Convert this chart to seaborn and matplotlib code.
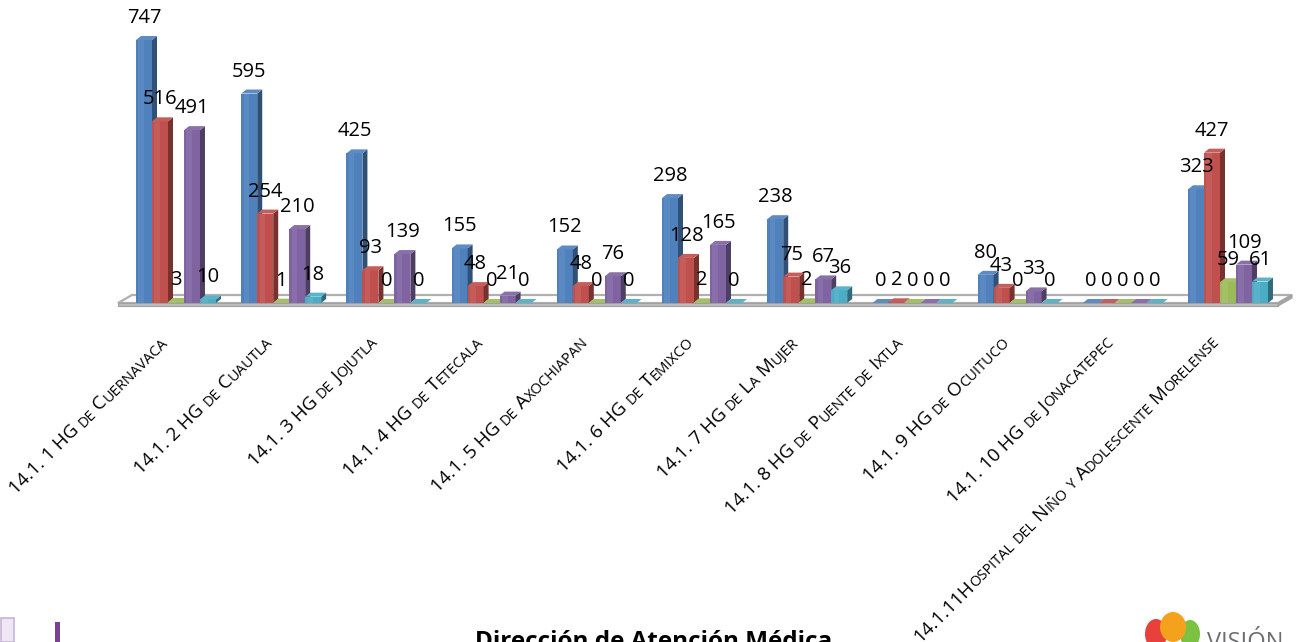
import numpy as np
import pandas as pd
import matplotlib
matplotlib.use("Agg")
import matplotlib.pyplot as plt
import seaborn as sns
from matplotlib.patches import Polygon, Rectangle, Ellipse
from matplotlib.font_manager import FontProperties

# ---------------- data ----------------
categories = [
    "14.1. 1 HG de Cuernavaca",
    "14.1. 2 HG de Cuautla",
    "14.1. 3 HG de Jojutla",
    "14.1. 4 HG de Tetecala",
    "14.1. 5 HG de Axochiapan",
    "14.1. 6 HG de Temixco",
    "14.1. 7 HG de La Mujer",
    "14.1. 8 HG de Puente de Ixtla",
    "14.1. 9 HG de Ocuituco",
    "14.1. 10 HG de Jonacatepec",
    "14.1.11Hospital del Niño y Adolescente Morelense",
]
series_names = ["Serie 1", "Serie 2", "Serie 3", "Serie 4", "Serie 5"]
serie1 = [747, 595, 425, 155, 152, 298, 238, 0, 80, 0, 323]
serie2 = [516, 254, 93, 48, 48, 128, 75, 2, 43, 0, 427]
serie3 = [3, 1, 0, 0, 0, 2, 2, 0, 0, 0, 59]
serie4 = [491, 210, 139, 21, 76, 165, 67, 0, 33, 0, 109]
serie5 = [10, 18, 0, 0, 0, 0, 36, 0, 0, 0, 61]
colors = ["#4F81BD", "#C0504D", "#9BBB59", "#8064A2", "#4BACC6"]
footer = "Dirección de Atención Médica"

all_series = [serie1, serie2, serie3, serie4, serie5]
df = pd.DataFrame({
    "cat": np.repeat([categories], 5, axis=0).ravel(),
    "serie": np.repeat(series_names, len(categories)),
    "val": np.concatenate(all_series),
})

# ---------------- figure ----------------
W, H = 1300, 642
FONT = "Open Sans"
sns.set_style("white")
plt.rcParams["font.family"] = [FONT, "DejaVu Sans"]

fig = plt.figure(figsize=(W / 100, H / 100), dpi=100)
base_px = 303          # baseline (value 0) from top
top_px = 40            # top of 747 bar from top
ppx = 105.2            # px per category
c0 = 176               # px of first group centre
ax = fig.add_axes([100 / W, (H - base_px) / H, 1200 / W, base_px / H])

sns.barplot(data=df, x="cat", y="val", hue="serie", order=categories,
            hue_order=series_names, palette=colors, width=0.76, saturation=1,
            errorbar=None, legend=False, ax=ax, linewidth=0)
bars = [p for p in ax.patches if isinstance(p, Rectangle)]
ax.set_xlim((100 - c0) / ppx, (1300 - c0) / ppx)
ymax = max(serie1) * base_px / (base_px - top_px)
ax.set_ylim(0, ymax)
ax.axis("off")

upx = ymax / base_px          # data units per px (y)
dx = 5 / ppx
dy = 4 * upx


def shade(c, f):
    r = np.array(matplotlib.colors.to_rgb(c))
    return tuple(np.clip(r * f, 0, 1))


def lighten(c, f):
    r = np.array(matplotlib.colors.to_rgb(c))
    return tuple(r + (1 - r) * f)


# floor
xl_f, xr_f = (118 - c0) / ppx, (1278 - c0) / ppx
off = 14 / ppx
yb = 8 * upx
ax.add_patch(Polygon([(xl_f, 0), (xr_f, 0), (xr_f + off, yb), (xl_f + off, yb)],
                     closed=True, facecolor="white", edgecolor="#b0b0b0", lw=1.6,
                     zorder=1, clip_on=False))
ax.add_patch(Polygon([(xl_f, 0), (xr_f, 0), (xr_f, -3 * upx), (xl_f, -3 * upx)],
                     closed=True, facecolor="#bdbdbd", edgecolor="#a0a0a0",
                     lw=0.8, zorder=1, clip_on=False))
ax.add_patch(Polygon([(xr_f, 0), (xr_f + off, yb), (xr_f + off, yb - 3 * upx),
                      (xr_f, -3 * upx)], closed=True, facecolor="#a8a8a8",
                     edgecolor="#a0a0a0", lw=0.8, zorder=1, clip_on=False))

# 3D bars
for p in bars:
    w = p.get_width()
    if w > 0.5 or w <= 0:
        continue
    x = p.get_x()
    h = p.get_height()
    c = x + w / 2
    g = int(round(c))
    s = int(round((c - g + 0.38 - w / 2) / w))
    if s < 0 or s > 4:
        continue
    col = colors[s]
    z = 3 + s
    p.set_zorder(z)
    p.set_clip_on(False)
    # subtle highlight strip on the front face
    ax.add_patch(Rectangle((x + w * 0.15, 0), w * 0.35, h,
                           facecolor=lighten(col, 0.07), edgecolor="none",
                           zorder=z, clip_on=False))
    side = Polygon([(x + w, 0), (x + w + dx, dy), (x + w + dx, h + dy), (x + w, h)],
                   closed=True, facecolor=shade(col, 0.62), edgecolor="none",
                   zorder=z, clip_on=False)
    top = Polygon([(x, h), (x + dx, h + dy), (x + w + dx, h + dy), (x + w, h)],
                  closed=True, facecolor=lighten(col, 0.08), edgecolor="none",
                  zorder=z, clip_on=False)
    ax.add_patch(side)
    ax.add_patch(top)
    v = all_series[s][g]
    ax.annotate(str(v), xy=(c, h), xytext=(0, 22), textcoords="offset pixels",
                ha="center", va="center", fontsize=14.5, color="black",
                zorder=20, annotation_clip=False)

# category labels with small caps
renderer = fig.canvas.get_renderer()
BIG, SMALL = 13.6, 10.5


def runs_of(label):
    runs = []
    for ch in label:
        small = ch.islower()
        t = ch.upper() if small else ch
        if runs and runs[-1][1] == small:
            runs[-1][0] += t
        else:
            runs.append([t, small])
    return runs


def adv(text, size):
    fp = FontProperties(family=FONT, size=size)
    w1 = renderer.get_text_width_height_descent("|" + text + "|", fp, ismath=False)[0]
    w2 = renderer.get_text_width_height_descent("||", fp, ismath=False)[0]
    return w1 - w2


u = np.array([np.cos(np.pi / 4), np.sin(np.pi / 4)])
for g, lab in enumerate(categories):
    runs = runs_of(lab)
    widths = [adv(t, SMALL if sm else BIG) for t, sm in runs]
    L = sum(widths)
    cx = ax.transData.transform((g, 0))[0]
    E = np.array([cx - 8, H - 343])
    S = E - L * u
    o = 0.0
    for (t, sm), wd in zip(runs, widths):
        pos = S + o * u
        fig.text(pos[0] / W, pos[1] / H, t, rotation=45, rotation_mode="anchor",
                 ha="left", va="baseline", fontsize=SMALL if sm else BIG,
                 color="black")
        o += wd

# footer (cut by the bottom edge, as in the source slide)
fig.text(654 / W, (H - 648) / H, footer, ha="center", va="baseline",
         fontsize=17.5, fontweight="bold", color="black")

# left logos (approximate)
fig.patches.append(Rectangle((1 / W, 0), 13 / W, 24 / H, transform=fig.transFigure,
                             facecolor="#efe8f4", edgecolor="#c8b4d8", lw=1.2))
fig.patches.append(Rectangle((55 / W, 0), 5 / W, 20 / H, transform=fig.transFigure,
                             facecolor="#7d3f8f", edgecolor="none"))
# right logo (approximate)
fig.patches.append(Ellipse((1156 / W, 8 / H), 22 / W, 30 / H, transform=fig.transFigure,
                           facecolor="#e8413c", edgecolor="none"))
fig.patches.append(Ellipse((1190 / W, 8 / H), 20 / W, 28 / H, transform=fig.transFigure,
                           facecolor="#7cc242", edgecolor="none"))
fig.patches.append(Ellipse((1173 / W, 15 / H), 26 / W, 30 / H, transform=fig.transFigure,
                           facecolor="#f4a11d", edgecolor="none"))
fig.text(1207 / W, (H - 649) / H, "VISIÓN", ha="left", va="baseline", fontsize=17,
         color="#6d6e71")

fig.savefig("out.png", dpi=100)
